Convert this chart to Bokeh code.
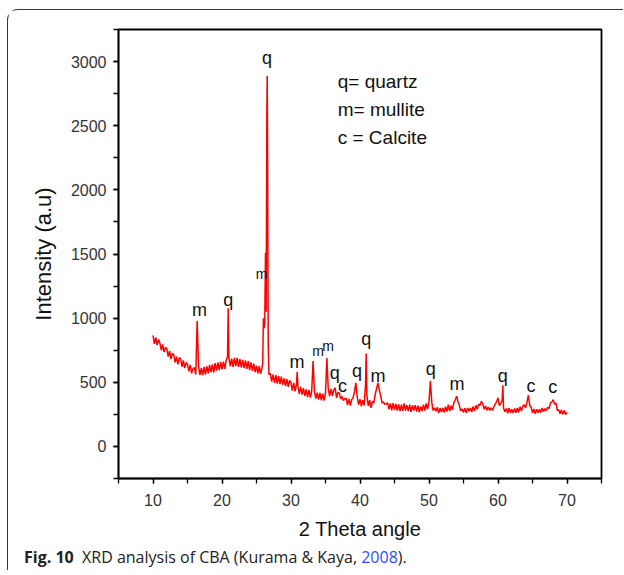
import numpy as np
from bokeh.plotting import figure
from bokeh.models import ColumnDataSource, SingleIntervalTicker, Div, Range1d
from bokeh.layouts import column
from bokeh.embed import file_html
from bokeh.resources import INLINE
from bokeh.core.properties import value

# ---------------- data ----------------
# regular scan grid: 10.0 .. 70.0 deg, 0.2 deg apart (5 samples per degree)
scan_start = 10.0
scan_step = 0.2
counts_by_degree = [
    [865, 800, 850, 790, 835],   # 10
    [805, 750, 795, 735, 770],   # 11
    [765, 700, 745, 680, 725],   # 12
    [715, 655, 700, 640, 690],   # 13
    [685, 620, 670, 610, 655],   # 14
    [640, 585, 635, 570, 605],   # 15
    [615, 560, 978, 630, 555],   # 16
    [610, 555, 620, 560, 625],   # 17
    [570, 635, 580, 640, 575],   # 18
    [650, 590, 655, 595, 660],   # 19
    [600, 660, 605, 670, 700],   # 20
    [690, 625, 685, 620, 690],   # 21
    [625, 690, 620, 680, 615],   # 22
    [675, 610, 670, 605, 665],   # 23
    [595, 655, 590, 645, 580],   # 24
    [630, 570, 625, 565, 615],   # 25
    [1000, 960, 1050, 2400, 560],  # 26
    [570, 505, 560, 495, 555],   # 27
    [490, 550, 485, 545, 480],   # 28
    [530, 470, 525, 465, 515],   # 29
    [495, 435, 495, 430, 485],   # 30
    [470, 410, 465, 405, 455],   # 31
    [395, 445, 385, 440, 380],   # 32
    [430, 665, 425, 372, 420],   # 33
    [365, 418, 360, 412, 358],   # 34
    [415, 690, 445, 392, 448],   # 35
    [395, 440, 456, 378, 420],   # 36
    [417, 370, 390, 358, 372],   # 37
    [375, 322, 370, 318, 365],   # 38
    [380, 425, 496, 385, 325],   # 39
    [368, 312, 360, 320, 480],   # 40
    [395, 315, 360, 300, 352],   # 41
    [338, 405, 450, 496, 440],   # 42
    [395, 340, 345, 328, 330],   # 43
    [340, 290, 335, 282, 338],   # 44
    [285, 332, 280, 328, 275],   # 45
    [325, 278, 335, 280, 322],   # 46
    [275, 326, 270, 320, 280],   # 47
    [322, 272, 318, 268, 312],   # 48
    [276, 325, 280, 335, 290],   # 49
    [350, 509, 345, 280, 300],   # 50
    [275, 305, 260, 300, 268],   # 51
    [300, 265, 310, 272, 325],   # 52
    [275, 318, 285, 340, 362],   # 53
    [391, 350, 318, 278, 292],   # 54
    [265, 298, 262, 300, 275],   # 55
    [300, 268, 312, 275, 320],   # 56
    [290, 330, 320, 352, 330],   # 57
    [290, 315, 282, 308, 280],   # 58
    [300, 280, 310, 330, 350],   # 59
    [378, 318, 335, 360, 300],   # 60
    [270, 295, 258, 300, 262],   # 61
    [290, 260, 295, 262, 300],   # 62
    [265, 310, 275, 315, 325],   # 63
    [300, 345, 399, 320, 305],   # 64
    [262, 292, 255, 290, 262],   # 65
    [290, 265, 300, 270, 295],   # 66
    [280, 305, 295, 340, 345],   # 67
    [365, 330, 338, 280, 285],   # 68
    [255, 285, 250, 280, 248],   # 69
    [265],                       # 70
]
# sharp reflections sampled between grid points
peak_theta = [20.9, 25.9, 26.1, 26.3, 26.5, 26.55, 26.7, 30.9, 40.9, 60.7]
peak_counts = [1078, 650, 920, 1510, 2600, 2890, 800, 582, 725, 477]

# phase labels
label_text = ["m", "q", "m", "q", "m", "m", "m", "q", "c", "q", "q", "m", "q", "m", "q", "c", "c"]
label_theta = [16.75, 20.89, 25.72, 26.53, 30.88, 33.91, 35.37, 36.33, 37.45, 39.57,
               40.92, 42.6, 50.24, 54.04, 60.7, 64.8, 67.94]
label_counts = [1062, 1143, 1344, 3026, 660, 743, 783, 574, 470, 587,
                835, 548, 600, 483, 548, 470, 462]

key_text = ["q= quartz", "m= mullite", "c = Calcite"]
key_theta = [36.77, 36.77, 36.77]
key_counts = [2841, 2630, 2410]

x_ticks = [10, 20, 30, 40, 50, 60, 70]
y_ticks = [0, 500, 1000, 1500, 2000, 2500, 3000]

# ---------------- assemble the scan ----------------
grid_counts = [c for row in counts_by_degree for c in row]
grid_theta = [round(scan_start + scan_step * i, 2) for i in range(len(grid_counts))]
all_theta = grid_theta + peak_theta
all_counts = grid_counts + peak_counts
order = np.argsort(all_theta, kind="stable")
scan = ColumnDataSource(dict(x=np.array(all_theta)[order], y=np.array(all_counts)[order]))

small = {25.72, 33.91, 35.37}
lab = ColumnDataSource(dict(
    x=label_theta, y=label_counts, t=label_text,
    fs=["14px" if v in small else "18px" for v in label_theta],
))
key = ColumnDataSource(dict(x=key_theta, y=key_counts, t=key_text))

FONT = "Liberation Sans"

p = figure(width=615, height=532, x_range=Range1d(5, 75), y_range=Range1d(-250, 3250),
           output_backend="svg", toolbar_location=None,
           min_border_left=110, min_border_right=22, min_border_top=19, min_border_bottom=60,
           background_fill_color="white", border_fill_color="white")
p.grid.visible = False
p.outline_line_color = "black"
p.outline_line_width = 1.8

p.line("x", "y", source=scan, line_color="#ff0000", line_width=1.5)

p.text("x", "y", text="t", source=lab, text_font=value(FONT), text_font_size="fs",
       text_align="center", text_baseline="middle", text_color="#111111")
p.text("x", "y", text="t", source=key, text_font=value(FONT), text_font_size="19px",
       text_align="left", text_baseline="middle", text_color="#111111")

p.xaxis.ticker = SingleIntervalTicker(interval=10, num_minor_ticks=2)
p.yaxis.ticker = SingleIntervalTicker(interval=500, num_minor_ticks=2)
p.xaxis.major_label_overrides = {v: str(v) for v in x_ticks}
p.yaxis.major_label_overrides = {v: str(v) for v in y_ticks}

for ax in (p.xaxis[0], p.yaxis[0]):
    ax.axis_line_color = "black"
    ax.axis_line_width = 1.5
    ax.major_tick_line_color = "black"
    ax.minor_tick_line_color = "black"
    ax.major_tick_line_width = 1.3
    ax.minor_tick_line_width = 1.3
    ax.major_tick_in = 0
    ax.minor_tick_in = 0
    ax.major_tick_out = 5
    ax.minor_tick_out = 5
    ax.major_label_text_font = FONT
    ax.major_label_text_font_size = "16px"
    ax.major_label_text_color = "#333333"
    ax.axis_label_text_font = FONT
    ax.axis_label_text_font_style = "normal"
    ax.axis_label_text_color = "#111111"

p.xaxis.axis_label = "2 Theta angle"
p.xaxis.axis_label_text_font_size = "20px"
p.xaxis.major_label_standoff = 10
p.xaxis.axis_label_standoff = 9
p.yaxis.axis_label = "Intensity (a.u)"
p.yaxis.axis_label_text_font_size = "22px"
p.yaxis.major_label_standoff = 7
p.yaxis.axis_label_standoff = 12

caption = Div(
    text=("<span style='font-weight:700'>Fig. 10</span>"
          "&nbsp;&nbsp;XRD analysis of CBA (Kurama &amp; Kaya, "
          "<span style='color:#2f4bff'>2008</span>)."),
    width=590, height=24, margin=(4, 0, 0, 16),
    styles={"font-family": "Open Sans", "font-size": "16px", "color": "#222",
            "line-height": "22px"},
)

layout = column(p, caption, margin=(9, 0, 0, 7),
                styles={"border-left": "1.3px solid #3a3a3a", "border-top": "1.3px solid #3a3a3a",
                        "border-top-left-radius": "11px", "background": "white"})

open("out.html", "w").write(file_html(layout, INLINE))
